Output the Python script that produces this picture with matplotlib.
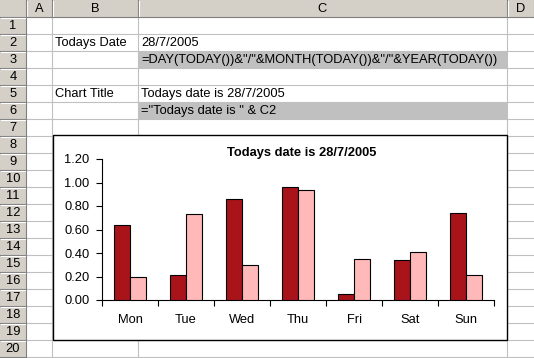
import numpy as np
import matplotlib.pyplot as plt
from matplotlib.patches import Rectangle
from matplotlib.ticker import FormatStrFormatter, FixedLocator

plt.rcParams['font.family'] = ['Liberation Sans', 'DejaVu Sans']

# data
days = ['Mon', 'Tue', 'Wed', 'Thu', 'Fri', 'Sat', 'Sun']
series1 = [0.64, 0.21, 0.86, 0.96, 0.05, 0.34, 0.74]
series2 = [0.20, 0.73, 0.30, 0.94, 0.35, 0.41, 0.21]
chart_title = 'Todays date is 28/7/2005'

col_names = ['A', 'B', 'C', 'D']
row_count = 20
cells = {
    (2, 'B'): 'Todays Date',
    (2, 'C'): '28/7/2005',
    (3, 'C'): '=DAY(TODAY())&"/"&MONTH(TODAY())&"/"&YEAR(TODAY())',
    (5, 'B'): 'Chart Title',
    (5, 'C'): 'Todays date is 28/7/2005',
    (6, 'C'): '="Todays date is " & C2',
}
shaded = [(3, 'C'), (6, 'C')]

W, H = 534, 358
fig = plt.figure(figsize=(W / 100, H / 100), dpi=100)
bg = fig.add_axes([0, 0, 1, 1])
bg.set_xlim(0, W)
bg.set_ylim(H, 0)
bg.axis('off')

# sheet layout (pixels)
col_edges = [0, 26, 52, 138, 507, 534]
row_h = 17
grid_c = '#c0c0c0'
head_c = '#d4d0c8'
fs = 9.3

# cells
bg.add_patch(Rectangle((26, 17), W - 26, H - 17, facecolor='white', edgecolor='none'))
for r, c in shaded:
    i = col_names.index(c) + 1
    bg.add_patch(Rectangle((col_edges[i], r * row_h), col_edges[i + 1] - col_edges[i], row_h,
                           facecolor='#c0c0c0', edgecolor='none'))
for x in col_edges[2:-1]:
    bg.plot([x, x], [17, H], color=grid_c, lw=0.8)
for r in range(2, row_count + 2):
    bg.plot([26, W], [r * row_h, r * row_h], color=grid_c, lw=0.8)

# headers
bg.add_patch(Rectangle((0, 0), W, 17, facecolor=head_c, edgecolor='none', zorder=3))
bg.add_patch(Rectangle((0, 0), 26, H, facecolor=head_c, edgecolor='none', zorder=3))
for i, name in enumerate(col_names):
    x0, x1 = col_edges[i + 1], col_edges[i + 2]
    bg.plot([x1 - 0.5, x1 - 0.5], [0, 17], color='#808080', lw=0.8, zorder=4)
    bg.plot([x0 + 0.5, x0 + 0.5], [1, 16], color='white', lw=0.8, zorder=4)
    bg.text((x0 + x1) / 2, 9, name, ha='center', va='center', fontsize=fs, zorder=4)
bg.plot([0, W], [16.5, 16.5], color='#808080', lw=0.8, zorder=4)
bg.plot([25.5, 25.5], [0, H], color='#808080', lw=0.8, zorder=4)
for r in range(1, row_count + 1):
    y0 = r * row_h
    bg.plot([0, 26], [y0 + row_h - 0.5, y0 + row_h - 0.5], color='#808080', lw=0.8, zorder=4)
    bg.plot([1, 25], [y0 + 0.5, y0 + 0.5], color='white', lw=0.8, zorder=4)
    bg.text(13, y0 + row_h / 2 + 0.5, str(r), ha='center', va='center', fontsize=fs, zorder=4)

for (r, c), txt in cells.items():
    i = col_names.index(c) + 1
    bg.text(col_edges[i] + 3, r * row_h + row_h / 2 + 0.5, txt, ha='left', va='center', fontsize=fs)

# chart frame
bg.add_patch(Rectangle((53, 135), 454, 205, facecolor='white', edgecolor='black', lw=1.0, zorder=5))
bg.text(302, 153, chart_title, ha='center', va='center', fontsize=9.3, fontweight='bold', zorder=6)

# plot area
px0, px1, py0, py1 = 102, 494, 159, 300
ax = fig.add_axes([px0 / W, (H - py1) / H, (px1 - px0) / W, (py1 - py0) / H])
ax.patch.set_alpha(0)
x = np.arange(len(days))
bw = 16 / 56
ax.bar(x - bw / 2, series1, bw, color='#a8141a', edgecolor='black', lw=0.8, zorder=3)
ax.bar(x + bw / 2, series2, bw, color='#ffb9b9', edgecolor='black', lw=0.8, zorder=3)
ax.set_xlim(-0.5, len(days) - 0.5)
ax.set_ylim(0, 1.2)
ax.set_yticks(np.arange(0, 1.21, 0.2))
ax.yaxis.set_major_formatter(FormatStrFormatter('%.2f'))
ax.set_xticks(x)
ax.set_xticklabels(days)
ax.xaxis.set_minor_locator(FixedLocator(np.arange(-0.5, len(days), 1)))
ax.tick_params(axis='x', which='major', length=0, pad=10, labelsize=9.3)
ax.tick_params(axis='x', which='minor', length=4, width=0.8, direction='out')
ax.tick_params(axis='y', length=4, width=0.8, pad=5, labelsize=9.3)
for s in ['top', 'right']:
    ax.spines[s].set_visible(False)
for s in ['left', 'bottom']:
    ax.spines[s].set_linewidth(0.8)

fig.savefig('out.png', dpi=100, facecolor='white')
